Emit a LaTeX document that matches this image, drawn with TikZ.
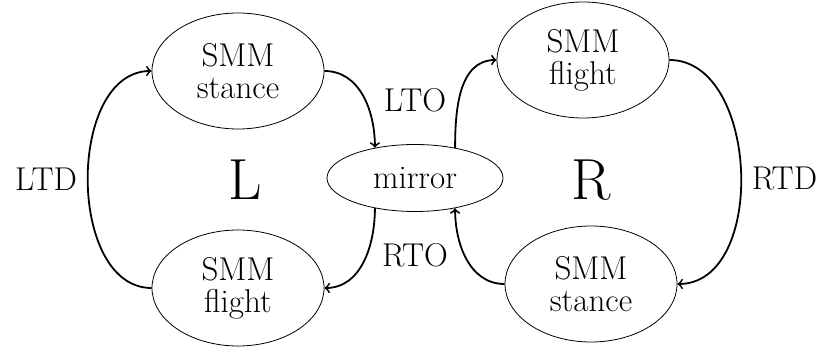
\documentclass[tikz,border=0pt]{standalone}
\usepackage{tikz}
\usetikzlibrary{shapes.geometric}

\begin{document}
\begin{tikzpicture}[x=0.5pt, y=-0.5pt, >=to, font=\fontsize{16.5}{16}\selectfont]
    \tikzstyle{state} = [draw, ellipse, thin, align=center, inner sep=0pt, minimum width=86pt, minimum height=58pt];
    \tikzstyle{mstate} = [state, minimum width=88pt, minimum height=33.5pt];
    \tikzstyle{conn} = [->, line width=0.9pt];
    \tikzstyle{side} = [font=\fontsize{29}{32}\selectfont];
    \useasboundingbox (0,0) rectangle (822,351);
    \node [state] (lstance) at (238,71) {SMM\\stance};
    \node [state] (lflight) at (238,288) {SMM\\flight};
    \node [state] (rflight) at (583,60) {SMM\\flight};
    \node [state] (rstance) at (591,284) {SMM\\stance};
    \node [mstate] (mirror) at (415,178) {mirror};
    \node [side] (lside) at (245,180) {L};
    \node [side] (rside) at (591,180) {R};
    \node (lto) at (415,100) {LTO};
    \node (rto) at (415,255) {RTO};
    \draw [conn] (lflight.west) .. controls +(-85,0) and +(-85,0) .. node [left, inner sep=5pt] (ltd) {LTD} (lstance.west);
    \draw [conn] (rflight.east) .. controls +(90,0) and +(90,0) .. node [right, inner sep=5pt, yshift=-3pt] (rtd) {RTD} (rstance.east);
    \draw [conn] (lstance.east) to [out=0, in=90] (mirror.143);
    \draw [conn] (mirror.217) to [out=-90, in=0] (lflight.east);
    \draw [conn] (mirror.37) to [out=90, in=180] (rflight.west);
    \draw [conn] (rstance.west) to [out=180, in=-90] (mirror.323);
  \end{tikzpicture}
\end{document}
